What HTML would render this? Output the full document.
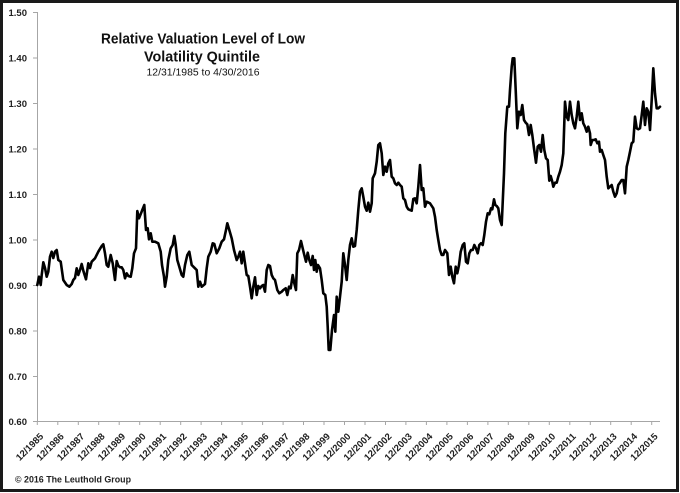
<!DOCTYPE html>
<html><head><meta charset="utf-8"><style>
html,body{margin:0;padding:0;background:#fff;}
svg{display:block;}
</style></head><body>
<svg width="680" height="493" viewBox="0 0 680 493" xmlns="http://www.w3.org/2000/svg">
<rect x="0" y="0" width="680" height="493" fill="#fff"/>
<rect x="1.5" y="1.5" width="676" height="489" fill="none" stroke="#1a1a1a" stroke-width="3"/>
<g stroke="#a6a6a6" stroke-width="1" fill="none">
<line x1="37.5" y1="12" x2="37.5" y2="421.5"/>
<line x1="37" y1="421.5" x2="660" y2="421.5"/>
<line x1="33" y1="12.5" x2="37" y2="12.5"/>
<line x1="33" y1="58" x2="37" y2="58"/>
<line x1="33" y1="103.5" x2="37" y2="103.5"/>
<line x1="33" y1="149" x2="37" y2="149"/>
<line x1="33" y1="194.5" x2="37" y2="194.5"/>
<line x1="33" y1="240" x2="37" y2="240"/>
<line x1="33" y1="285.5" x2="37" y2="285.5"/>
<line x1="33" y1="331" x2="37" y2="331"/>
<line x1="33" y1="376.5" x2="37" y2="376.5"/>
<line x1="33" y1="421.5" x2="37" y2="421.5"/>
</g>
<g font-family="'Liberation Sans', Arial, sans-serif" font-size="9.5" font-weight="bold" fill="#222" text-anchor="end">
<text x="27" y="16">1.50</text>
<text x="27" y="61.5">1.40</text>
<text x="27" y="107">1.30</text>
<text x="27" y="152.5">1.20</text>
<text x="27" y="198">1.10</text>
<text x="27" y="243.5">1.00</text>
<text x="27" y="289">0.90</text>
<text x="27" y="334.5">0.80</text>
<text x="27" y="380">0.70</text>
<text x="27" y="425">0.60</text>
</g>
<g font-family="'Liberation Sans', Arial, sans-serif" fill="#111" text-anchor="middle">
<text x="203" y="43.5" font-size="15" font-weight="bold" textLength="204" lengthAdjust="spacingAndGlyphs">Relative Valuation Level of Low</text>
<text x="202" y="61.5" font-size="15" font-weight="bold" textLength="116" lengthAdjust="spacingAndGlyphs">Volatility Quintile</text>
<text x="203" y="75.5" font-size="10" textLength="113" lengthAdjust="spacingAndGlyphs">12/31/1985 to 4/30/2016</text>
</g>
<text x="15" y="482.5" font-family="'Liberation Sans', Arial, sans-serif" font-size="9" font-weight="bold" fill="#222" textLength="116" lengthAdjust="spacingAndGlyphs">© 2016 The Leuthold Group</text>
<polyline fill="none" stroke="#000" stroke-width="2.6" stroke-linejoin="round" stroke-linecap="round" points="
37.3,285 39,276.7 40.7,285 41.7,275 43.3,262.3 45,268 46.7,276.7 48.3,271.7 50,256.7 51.7,251.7 53.3,258 55,251.7 56.7,250 58.3,260 60.7,261.7 63.3,280 66.7,285 69.3,286.7 71.7,284 73.3,280 75,278 76.7,268.3 78.3,275 80,270 81.7,264 83.3,270.7 86,279.3 88.3,263.3 90,268 91.7,261.7 95,258.3 98.3,251.7 101.7,246 103.3,244.3 105,253.3 106.7,265 108.3,266.7 110.7,255 112.7,263.3 115,280 116.7,261 118.3,265.7 120,267.3 121.7,267.3 123.3,270 125,278.3 126.7,273.3 128.3,276 130.7,276.7 132.3,268.3 134,253.3 136,248.3 137.3,211 139,218.3 141,213.3 142.3,210 144.3,205 146,230 147.7,228.3 149,239.3 150.7,233.3 152.3,241.7 155,241.7 158.3,243.3 160.7,251.7 162,265 164,276.7 165,286.7 166.7,276.7 168.3,260 170.7,248.3 172.7,245 174.3,236 175.7,245 177.3,260 179.3,266.7 181.7,275 183.3,276.7 185,265 187.3,255 189.3,251.7
191.7,265 195,268.3 196.7,270 198.3,286.7 200,281.7 201.7,286.7 205,284 206.7,268.3 208.3,256.7 210.7,251.7 212.7,243.3 214.3,244 216.7,253.3 219.3,248.3 221.7,241.7 224,239.3 226,230 227.3,223.3 229.3,230 231.7,238.3 234,250 236.7,260 238.3,256.7 240,251.7 241.7,263.3 243.3,251.7 245,263.3 246.7,275 248.3,276 250,286.7 251.7,298.3 253.3,286.7 255,277.3 256.7,295 258.3,286 260,288.3 261.7,286 263.3,285 265,291.7 266.7,270 268.3,265 270,266 271.7,275 273.3,278.3 275,280 277.3,290 279.3,293.3 281.7,291.7 283.3,290 285.7,288.3 287.3,295 289,286.7 290.7,288.3 292.7,275 294.3,283.3 296,290 297.3,253.3 299,250 301,241 302.7,248.3 304.3,255 306,261.7 307.7,252.7 309.3,260 311,265 312.7,256 314,270 315.3,260 316.7,271.7 318,265 320,268.3 321.7,280 323.3,293.3 325.3,295 326.7,306.7 327.7,326.7 328.7,350 330.3,350 332,330 334,315 335.3,331.7 336.7,296.7 338.3,311.7 340,296.7 341.7,281.7 343.3,253.3 345,265 346.7,280 348.3,260 350,245
351.7,238.3 353.3,246.7 355,246 356.7,230 358.3,210 360,191.7 361.7,188.3 363.3,196.7 365,206.7 366.7,210.7 368.3,202.7 370,211.7 371.7,203.3 372.7,178.3 375,173.3 376.7,161.7 378.3,145 380,143.3 381.7,153.3 383.3,175 385,166.7 386.7,171.7 388.3,163.3 390,160 391.7,176.7 393.3,178.3 395,183.3 396.7,185 398.3,182.7 400,185 401.7,186.7 403.3,198.3 405,200 406.7,206.7 408.3,209.3 410,210 411.7,210.7 413.3,199 415,198.3 416.7,203.3 418.3,186.7 420,165 421.7,190 423.3,188.3 425,206.7 426.7,201.7 430,203.3 433.3,208.3 435,216.7 436.7,230 438.3,240 440,250 441.7,255 443.3,255 445,250 447.3,253.3 449,275 450.7,266.7 452.3,276.7 454,283.3 455.7,266.7 457.3,273.3 459,265 460.7,251.7 462.7,245 464.3,243.3 466,261.7 467.7,263.3 469.3,253.3 471,250 472.7,250 474.3,245 476,248.3 477.7,253.3 479.3,245 481,243.3 482.7,245 484.3,235 486,221.7 487.7,213.3 489.3,214.3 491,208.3 492.3,209.3 494,199.3 495.3,205 496.7,206 498.3,208.3 500,220 501.7,225
504,173.3 505.3,133.3 507.3,106.7 509,106.7 510,90 511.7,66.7 512.7,58.3 514.3,58.3 515.7,90 517.3,128.3 519,111.7 520.7,115 522.3,105 524,120 525.7,122.7 527.3,124.3 529,135 530.7,125 532.3,135 534,148.3 536,162.7 537.7,146.7 539.3,145 541,151.7 542.7,135 544.3,150 546,158.3 547.7,160 549.3,180.7 550.7,176 552.3,181.7 553.3,186.7 555,182.7 556.7,182.7 558.3,176.7 560,171.7 561.7,165 563.3,153.3 565,101.7 566.7,116.7 568.3,120 570,101.7 571.7,115 573.3,123.3 575,128.3 576.7,116.7 578.3,101.7 580,120 581.7,113.3 583.3,123.3 585,126.7 586.7,131.7 588.3,126.7 590,133.3 590.7,145 592.3,140 594,140 595.7,139.3 597.3,143.3 599,141.7 600,151.7 601.7,150 603.3,155 605,160 606.7,176.7 608.3,188.3 610,186.7 611.7,185 613.3,191.7 615,196.7 616.7,193.3 618.3,185 620,182.7 621.7,180 623.3,180 625,193.3 626.7,166.7 628.3,160 630,151.7 631.7,143.3 633.3,141.7 635,116.7 636.7,128.3 638.3,129.3 640,128.3 641.7,115 643.3,101.7 645,125 646.7,108.3 648.3,111.7 650,130 651.7,100 653.3,68.3 655,93.3 656.7,108.3 658.3,108.3 660,106.7"/>
<g stroke="#a6a6a6" stroke-width="1">
<line x1="37.3" y1="421.5" x2="37.3" y2="425"/><line x1="57.8" y1="421.5" x2="57.8" y2="425"/><line x1="78.3" y1="421.5" x2="78.3" y2="425"/><line x1="98.7" y1="421.5" x2="98.7" y2="425"/><line x1="119.2" y1="421.5" x2="119.2" y2="425"/><line x1="139.7" y1="421.5" x2="139.7" y2="425"/><line x1="160.2" y1="421.5" x2="160.2" y2="425"/><line x1="180.7" y1="421.5" x2="180.7" y2="425"/><line x1="201.1" y1="421.5" x2="201.1" y2="425"/><line x1="221.6" y1="421.5" x2="221.6" y2="425"/><line x1="242.1" y1="421.5" x2="242.1" y2="425"/><line x1="262.6" y1="421.5" x2="262.6" y2="425"/><line x1="283.1" y1="421.5" x2="283.1" y2="425"/><line x1="303.5" y1="421.5" x2="303.5" y2="425"/><line x1="324" y1="421.5" x2="324" y2="425"/><line x1="344.5" y1="421.5" x2="344.5" y2="425"/><line x1="365" y1="421.5" x2="365" y2="425"/><line x1="385.5" y1="421.5" x2="385.5" y2="425"/><line x1="405.9" y1="421.5" x2="405.9" y2="425"/><line x1="426.4" y1="421.5" x2="426.4" y2="425"/><line x1="446.9" y1="421.5" x2="446.9" y2="425"/><line x1="467.4" y1="421.5" x2="467.4" y2="425"/><line x1="487.9" y1="421.5" x2="487.9" y2="425"/><line x1="508.3" y1="421.5" x2="508.3" y2="425"/><line x1="528.8" y1="421.5" x2="528.8" y2="425"/><line x1="549.3" y1="421.5" x2="549.3" y2="425"/><line x1="569.8" y1="421.5" x2="569.8" y2="425"/><line x1="590.3" y1="421.5" x2="590.3" y2="425"/><line x1="610.7" y1="421.5" x2="610.7" y2="425"/><line x1="631.2" y1="421.5" x2="631.2" y2="425"/><line x1="651.7" y1="421.5" x2="651.7" y2="425"/>
</g>
<g font-family="'Liberation Sans', Arial, sans-serif" font-size="9.5" font-weight="bold" fill="#222" text-anchor="end">
<text transform="translate(44,437) rotate(-45)">12/1985</text>
<text transform="translate(64.5,437) rotate(-45)">12/1986</text>
<text transform="translate(85,437) rotate(-45)">12/1987</text>
<text transform="translate(105.4,437) rotate(-45)">12/1988</text>
<text transform="translate(125.9,437) rotate(-45)">12/1989</text>
<text transform="translate(146.4,437) rotate(-45)">12/1990</text>
<text transform="translate(166.9,437) rotate(-45)">12/1991</text>
<text transform="translate(187.4,437) rotate(-45)">12/1992</text>
<text transform="translate(207.8,437) rotate(-45)">12/1993</text>
<text transform="translate(228.3,437) rotate(-45)">12/1994</text>
<text transform="translate(248.8,437) rotate(-45)">12/1995</text>
<text transform="translate(269.3,437) rotate(-45)">12/1996</text>
<text transform="translate(289.8,437) rotate(-45)">12/1997</text>
<text transform="translate(310.2,437) rotate(-45)">12/1998</text>
<text transform="translate(330.7,437) rotate(-45)">12/1999</text>
<text transform="translate(351.2,437) rotate(-45)">12/2000</text>
<text transform="translate(371.7,437) rotate(-45)">12/2001</text>
<text transform="translate(392.2,437) rotate(-45)">12/2002</text>
<text transform="translate(412.6,437) rotate(-45)">12/2003</text>
<text transform="translate(433.1,437) rotate(-45)">12/2004</text>
<text transform="translate(453.6,437) rotate(-45)">12/2005</text>
<text transform="translate(474.1,437) rotate(-45)">12/2006</text>
<text transform="translate(494.6,437) rotate(-45)">12/2007</text>
<text transform="translate(515,437) rotate(-45)">12/2008</text>
<text transform="translate(535.5,437) rotate(-45)">12/2009</text>
<text transform="translate(556,437) rotate(-45)">12/2010</text>
<text transform="translate(576.5,437) rotate(-45)">12/2011</text>
<text transform="translate(597,437) rotate(-45)">12/2012</text>
<text transform="translate(617.4,437) rotate(-45)">12/2013</text>
<text transform="translate(637.9,437) rotate(-45)">12/2014</text>
<text transform="translate(658.4,437) rotate(-45)">12/2015</text>
</g>
</svg>
</body></html>
